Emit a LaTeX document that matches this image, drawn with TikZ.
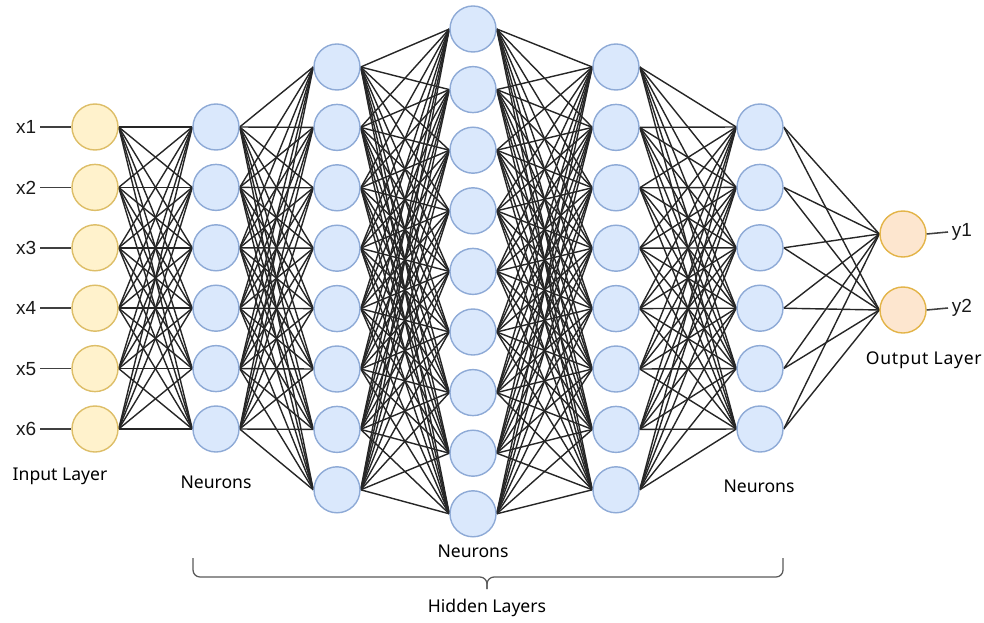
\documentclass[tikz,border=0pt]{standalone}
\usepackage{fontspec}
\usepackage{xcolor}
\usetikzlibrary{backgrounds}
\newfontfamily\labelfont{Noto Sans}
\newfontfamily\varfont{Liberation Sans}
\definecolor{cInFill}{HTML}{FFF2CC}
\definecolor{cInDraw}{HTML}{DDBE68}
\definecolor{cHidFill}{HTML}{DAE8FC}
\definecolor{cHidDraw}{HTML}{8EAAD6}
\definecolor{cOutFill}{HTML}{FDE6CF}
\definecolor{cOutDraw}{HTML}{E3B448}
\tikzset{
	neuron/.style ={circle, minimum size=1.15cm, inner sep=0pt, line width=1pt},
	innode/.style ={neuron, draw=cInDraw, fill=cInFill},
	hidnode/.style={neuron, draw=cHidDraw, fill=cHidFill},
	outnode/.style={neuron, draw=cOutDraw, fill=cOutFill},
	varlbl/.style ={font=\varfont\fontsize{13.5}{15}\selectfont, text=black!90, inner sep=2.5pt},
	edge/.style   ={line width=1pt, black!85},
	wire/.style   ={line width=1.1pt, black!75},
	brace/.style  ={line width=0.9pt, black!65, rounded corners=5pt},
}
\begin{document}
\begin{tikzpicture}[x=0.025cm, y=-0.025cm, font=\labelfont\fontsize{12.5}{15}\selectfont]
	\useasboundingbox (0,0) rectangle (984,623);
	% input layer
	\foreach \i in {1,...,6} {
		\node[innode] (i\i) at (95,{127+60.4*(\i-1)}) {};
		\node[varlbl, anchor=east] (xl\i) at (40,{127+60.4*(\i-1)}) {x\i};
		\draw[wire] (xl\i.east) -- (i\i.west);
	}
	% hidden layers
	\foreach \i in {1,...,6} \node[hidnode] (a\i) at (216,{127+60.4*(\i-1)}) {};
	\foreach \i in {1,...,8} \node[hidnode] (b\i) at (337,{67+60.4*(\i-1)}) {};
	\foreach \i in {1,...,9} \node[hidnode] (c\i) at (473,{29+60.6*(\i-1)}) {};
	\foreach \i in {1,...,8} \node[hidnode] (d\i) at (616,{67+60.4*(\i-1)}) {};
	\foreach \i in {1,...,6} \node[hidnode] (e\i) at (760,{127+60.4*(\i-1)}) {};
	% output layer
	\node[outnode] (o1) at (903,234) {};
	\node[outnode] (o2) at (903,310) {};
	\node[varlbl, anchor=west] (yl1) at (948,232) {y1};
	\node[varlbl, anchor=west] (yl2) at (948,308) {y2};
	\draw[wire] (o1.east) -- (yl1.west);
	\draw[wire] (o2.east) -- (yl2.west);
	% weights, fully connected
	\begin{scope}[on background layer]
		\foreach \p/\q/\m/\n in {i/a/6/6, a/b/6/8, b/c/8/9, c/d/9/8, d/e/8/6, e/o/6/2}
			\foreach \s in {1,...,\m}
				\foreach \t in {1,...,\n}
					\draw[edge] (\p\s.east) -- (\q\t.west);
	\end{scope}
	% layer captions
	\node (inlbl) at (60,476) {Input Layer};
	\node (n1lbl) at (216,482) {Neurons};
	\node (n3lbl) at (473,551) {Neurons};
	\node (n5lbl) at (759,486) {Neurons};
	\node[anchor=west] (outlbl) at (861,360) {\addfontfeature{LetterSpace=4}Output Layer};
	% brace under the hidden layers
	\coordinate (bl) at (193,558);
	\coordinate (br) at (783,558);
	\coordinate (bm) at (487,589);
	\draw[brace] (bl) -- (193,577) -- (487,577) -- (bm);
	\draw[brace] (br) -- (783,577) -- (487,577) -- (bm);
	\node (hidlbl) at (487,608) {Hidden Layers};
\end{tikzpicture}
\end{document}
